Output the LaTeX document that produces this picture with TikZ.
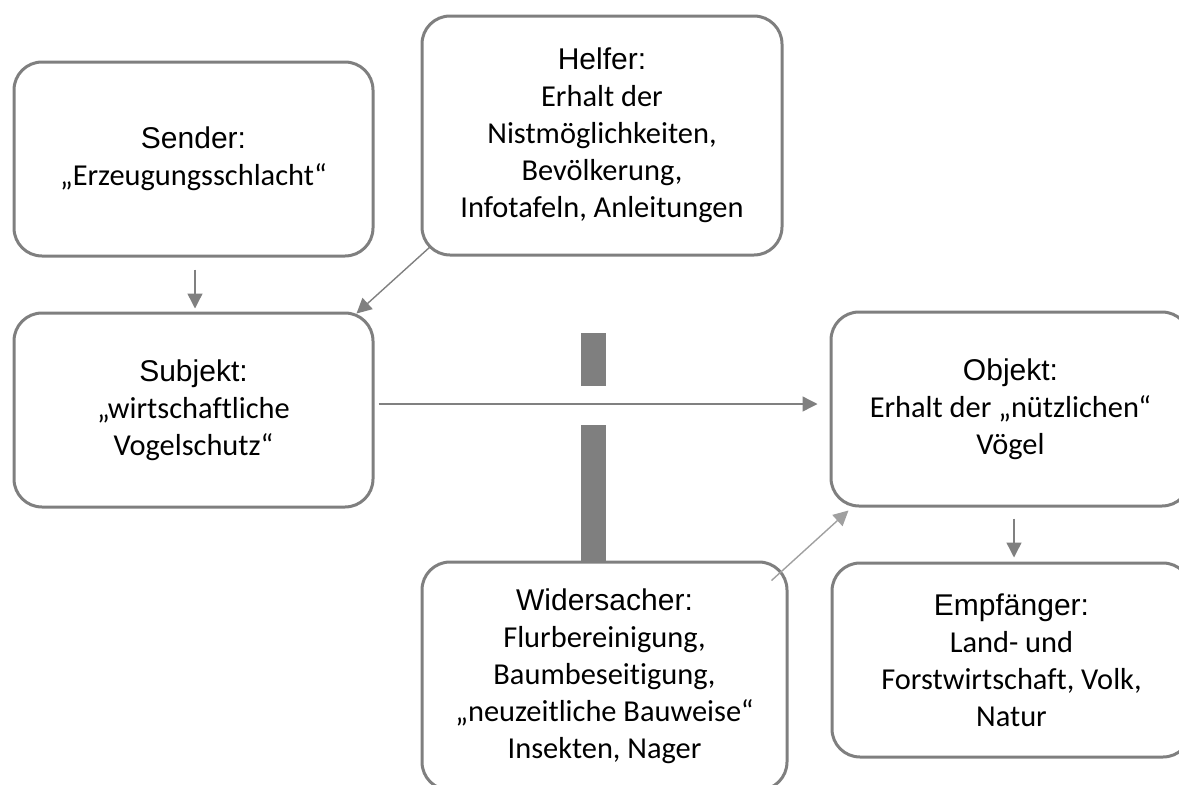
\documentclass[tikz,border=0pt]{standalone}
\usepackage{fontspec}
\setmainfont{Carlito}[Ligatures=NoCommon]
\newfontfamily\headfont{Liberation Sans}
\usetikzlibrary{arrows.meta}
\definecolor{framegray}{HTML}{7F7F7F}
\definecolor{linkgray}{HTML}{808080}
\definecolor{lightlink}{HTML}{A0A0A0}
\tikzset{
  actant/.style={draw=framegray, line width=3pt, rounded corners=28pt,
    minimum width=359pt, minimum height=194pt, align=center, inner sep=0pt,
    font=\fontsize{30.4}{37}\selectfont},
  link/.style={draw=linkgray, line width=1.4pt, -{Triangle[length=15pt,width=15pt]}},
  barrier/.style={fill=framegray, draw=none},
}
\newcommand{\actanthead}[1]{{\headfont\fontsize{30}{36}\selectfont #1}}
\begin{document}
\begin{tikzpicture}[x=1pt, y=-1pt]
  \useasboundingbox (0,0) rectangle (1179,785);
  \clip (0,0) rectangle (1179,785);

  % actant boxes
  \node[actant] (sender) at (193.5,159)
    {\actanthead{Sender:}\\„Erzeugungsschlacht“};
  \node[actant, minimum width=360pt, minimum height=239pt] (helfer) at (602,135.5)
    {\actanthead{Helfer:}\\Erhalt der\\Nistmöglichkeiten,\\Bevölkerung,\\Infotafeln, Anleitungen};
  \node[actant] (subjekt) at (193.5,410)
    {\actanthead{Subjekt:}\\„wirtschaftliche\\Vogelschutz“};
  \node[actant] (objekt) at (1010.5,409)
    {\actanthead{Objekt:}\\Erhalt der „nützlichen“\\Vögel};
  \node[actant, minimum width=365pt, minimum height=228pt] (widersacher) at (604.5,676)
    {\actanthead{Widersacher:}\\Flurbereinigung,\\Baumbeseitigung,\\„neuzeitliche Bauweise“\\Insekten, Nager};
  \node[actant] (empfaenger) at (1011.5,660)
    {\actanthead{Empfänger:}\\Land- und\\Forstwirtschaft, Volk,\\Natur};

  % barrier between subject and object
  \fill[barrier] (581,333) rectangle (606,386);
  \fill[barrier] (581,425) rectangle (606,563);

  % connectors
  \draw[link] ([shift={(1.5,12)}]sender.south) -- ([shift={(1.5,-3)}]subjekt.north);
  \draw[link] ([shift={(10,-10)}]helfer.south west) -- ([shift={(-18,2)}]subjekt.north east);
  \draw[link] ([shift={(4,-6)}]subjekt.east) -- ([shift={(-12,-5)}]objekt.west);
  \draw[link, draw=lightlink] ([shift={(-17,20)}]widersacher.north east) -- ([shift={(19,3)}]objekt.south west);
  \draw[link] ([shift={(3.5,11)}]objekt.south) -- ([shift={(2.5,-4)}]empfaenger.north);
\end{tikzpicture}
\end{document}
